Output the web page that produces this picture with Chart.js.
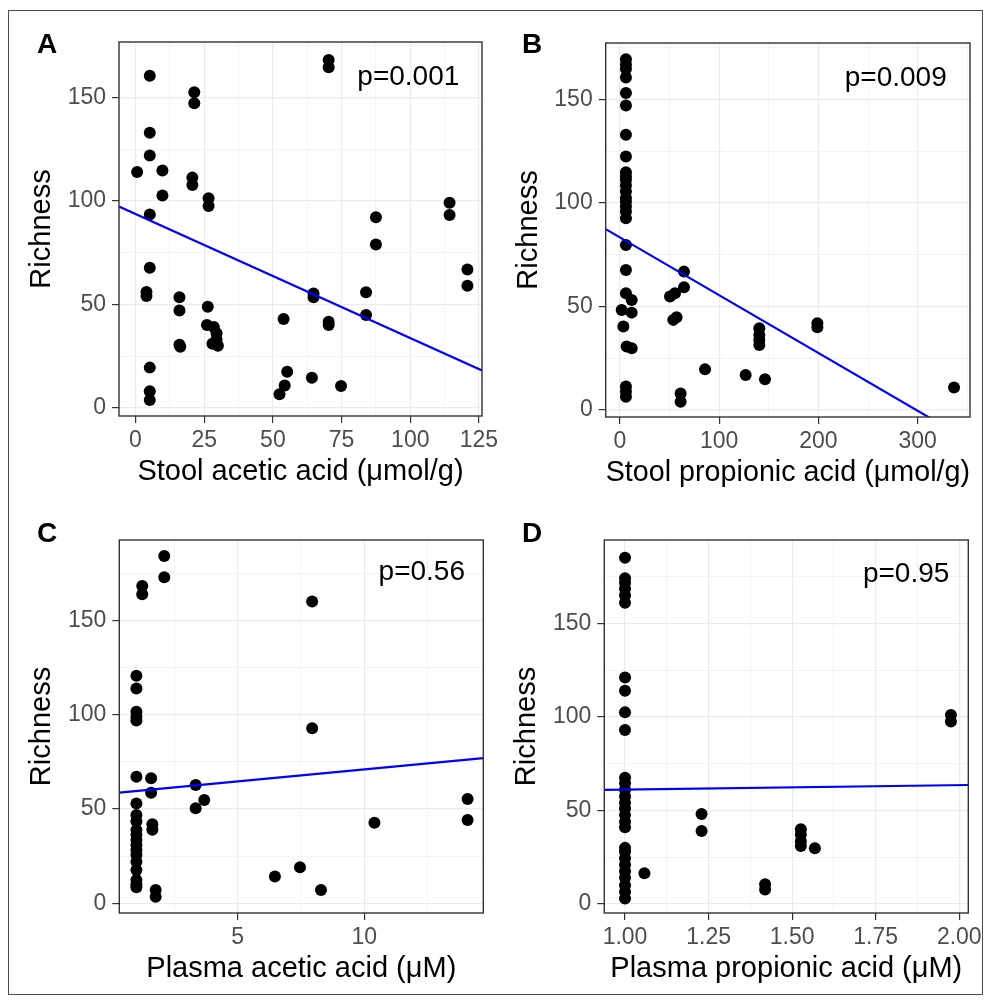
<!DOCTYPE html>
<html>
<head>
<meta charset="utf-8">
<title>Richness vs short-chain fatty acids</title>
<script src="https://cdn.jsdelivr.net/npm/chart.js@4.4.1/dist/chart.umd.min.js"></script>
<style>
  body { margin: 0; background: #fff; width: 991px; height: 1003px; position: relative; overflow: hidden; }
  .frame { position: absolute; left: 8px; top: 10px; width: 973px; height: 983px; border: 1.5px solid #4a4a4a; }
  canvas { position: absolute; }
</style>
</head>
<body>
<div class="frame"></div>
<canvas id="chartA" width="520" height="495" style="left:0px;top:0px"></canvas>
<canvas id="chartB" width="496" height="495" style="left:495px;top:0px"></canvas>
<canvas id="chartC" width="520" height="508" style="left:0px;top:495px"></canvas>
<canvas id="chartD" width="496" height="508" style="left:495px;top:495px"></canvas>
<script>
// Values (richness = y for every panel)

// A - stool acetic acid (umol/g)
const stoolAcetic = [5.2, 21.4, 21.4, 5.2, 5.2, 0.6, 9.8, 9.8, 20.7, 20.7,
  26.6, 26.6, 5.2, 5.2, 4.0, 4.0, 16, 16, 16, 16.3,
  26.3, 26, 28.5, 29.5, 29.5, 28, 30, 5.2, 5.2, 5.2,
  53.9, 52.4, 54.3, 55.2, 70.3, 70.3, 114.3, 114.3, 87.5, 87.5,
  120.8, 120.8, 64.8, 64.8, 83.9, 83.9, 70.3, 70.3, 64.2, 74.8];
const stoolAceticRich = [160.6, 152.6, 147.3, 133, 122, 114, 114.7, 102.6, 111.3, 107.7,
  101.3, 97.6, 93.5, 67.7, 56, 54, 53.4, 47, 30.5, 29.5,
  48.9, 40, 39, 36, 33, 31, 30, 19.4, 8, 3.7,
  42.9, 6.5, 10.8, 17.4, 168.2, 164.7, 99.2, 93.2, 92.1, 79,
  66.9, 59, 55.3, 53.4, 55.8, 44.8, 41.6, 40, 14.5, 10.5];
const stoolAceticFit = [93.7, -0.6]; // intercept, slope

// B - stool propionic acid (umol/g)
const stoolPropionic = [6, 6, 6, 6, 6, 6, 6, 6, 6, 6,
  6, 6, 6, 6, 6, 6, 6, 6, 6, 6, 6,
  1.7, 3.4, 11.8, 11.8, 6.7, 11.8, 6, 6, 6, 50.4,
  55.4, 64.5, 64.5, 53.7, 57, 61.1, 61.1, 85.7, 126.6, 146.1,
  140.4, 140.4, 140.4, 140.4, 198.9, 198.9, 336.6];
const stoolPropionicRich = [169.4, 166.7, 164.6, 160.5, 153, 147, 132.9, 122.4, 114.8, 112.7,
  111.1, 108.4, 105.5, 102.3, 100.6, 98.2, 95.8, 92.6, 79.7, 67.6, 56.4,
  48.3, 40.3, 53.1, 47, 30.6, 29.8, 11.3, 8.9, 6.4, 54.8,
  56.4, 66.8, 59.3, 43.5, 44.8, 8, 4, 19.6, 16.9, 14.8,
  39.5, 36.2, 33.8, 31.4, 41.9, 39.9, 10.8];
const stoolPropionicFit = [83.3, -0.279];

// C - plasma acetic acid (uM)
const plasmaAcetic = [2.1, 2.1, 1.23, 1.23, 1.0, 1.0, 1.0, 1.0, 1.0, 1.0,
  1.58, 1.58, 3.34, 3.34, 3.68, 1.0, 1.0, 1.63, 1.63,
  1.0, 1.0, 1.0, 1.0, 1.0, 1.0, 1.0, 1.0, 1.0, 1.0, 1.0, 1.0,
  1.76, 1.76, 6.47, 7.94, 7.94, 14.08, 14.08, 10.4, 7.46, 8.29];
const plasmaAceticRich = [184.3, 173, 168.4, 164, 120.8, 114, 101.7, 99, 97, 67.2,
  66.3, 58.7, 62.8, 50.4, 54.8, 53, 46.9, 42, 39,
  43.5, 38.9, 36.3, 33.6, 31, 28.3, 25.6, 22.1, 17.7, 12.4, 10, 8.5,
  7, 3.5, 14.2, 160.1, 92.9, 55.4, 44.2, 42.8, 19.1, 7.1];
const plasmaAceticFit = [58.3, 1.274];

// D - plasma propionic acid (uM)
const plasmaPropionic = [1, 1, 1, 1, 1, 1, 1, 1, 1, 1,
  1, 1, 1, 1, 1, 1, 1, 1, 1, 1,
  1, 1, 1, 1, 1, 1, 1, 1,
  1.058, 1.229, 1.229, 1.419, 1.419, 1.526, 1.526, 1.526, 1.526, 1.568, 1.975, 1.975];
const plasmaPropionicRich = [185, 174, 171.5, 168.5, 165, 161, 121, 114, 102.5, 93,
  67.5, 64.5, 61, 57.5, 54, 51, 47.5, 44, 41, 30,
  28, 24.5, 21, 17.5, 14, 10, 6.5, 3,
  16.4, 48.1, 39, 10.5, 7.8, 40, 37, 33.5, 31, 29.8, 101, 97.5];
const plasmaPropionicFit = [58.76, 2.39];

// tick breaks and labels
const richnessTicks = [0, 50, 100, 150];
const richnessTickLabels = ['0', '50', '100', '150'];
const stoolAceticTicks = [0, 25, 50, 75, 100, 125];
const stoolAceticTickLabels = ['0', '25', '50', '75', '100', '125'];
const stoolPropionicTicks = [0, 100, 200, 300];
const stoolPropionicTickLabels = ['0', '100', '200', '300'];
const plasmaAceticTicks = [5, 10];
const plasmaAceticTickLabels = ['5', '10'];
const plasmaPropionicTicks = [1, 1.25, 1.5, 1.75, 2];
const plasmaPropionicTickLabels = ['1.00', '1.25', '1.50', '1.75', '2.00'];

const pValues = ['p=0.001', 'p=0.009', 'p=0.56', 'p=0.95'];
const xTitles = ['Stool acetic acid (\u03bcmol/g)', 'Stool propionic acid (\u03bcmol/g)',
  'Plasma acetic acid (\u03bcM)', 'Plasma propionic acid (\u03bcM)'];

const FONT = '"Liberation Sans", Arial, Helvetica, sans-serif';

// layout of each panel (page pixels)
const panels = [
  { id: 'chartA', letter: 'A', xs: stoolAcetic, ys: stoolAceticRich, fit: stoolAceticFit,
    xRange: [-6.0, 126.1], yRange: [-4.0, 176.9], xTicks: stoolAceticTicks, xLabels: stoolAceticTickLabels,
    canvas: { left: 0, top: 0, width: 520, height: 495 }, area: { left: 119, top: 42, right: 482, bottom: 416 },
    pRight: 22.7, pTop: 43, letterX: 37, letterY: 53 },
  { id: 'chartB', letter: 'B', xs: stoolPropionic, ys: stoolPropionicRich, fit: stoolPropionicFit,
    xRange: [-14.4, 352.7], yRange: [-3.4, 177.2], xTicks: stoolPropionicTicks, xLabels: stoolPropionicTickLabels,
    canvas: { left: 495, top: 0, width: 496, height: 495 }, area: { left: 605.7, top: 43, right: 970, bottom: 417 },
    pRight: 23.3, pTop: 43, letterX: 522, letterY: 53 },
  { id: 'chartC', letter: 'C', xs: plasmaAcetic, ys: plasmaAceticRich, fit: plasmaAceticFit,
    xRange: [0.324, 14.70], yRange: [-5.15, 192.8], xTicks: plasmaAceticTicks, xLabels: plasmaAceticTickLabels,
    canvas: { left: 0, top: 495, width: 520, height: 508 }, area: { left: 119.3, top: 540, right: 483.3, bottom: 913 },
    pRight: 18.3, pTop: 40, letterX: 37, letterY: 542 },
  { id: 'chartD', letter: 'D', xs: plasmaPropionic, ys: plasmaPropionicRich, fit: plasmaPropionicFit,
    xRange: [0.938, 2.027], yRange: [-4.8, 194.5], xTicks: plasmaPropionicTicks, xLabels: plasmaPropionicTickLabels,
    canvas: { left: 495, top: 495, width: 496, height: 508 }, area: { left: 604.3, top: 540, right: 968.3, bottom: 913 },
    pRight: 19, pTop: 41.5, letterX: 522, letterY: 542 }
];

// major breaks plus ggplot-style minor breaks halfway between, kept inside the range
function gridValues(majors, range) {
  const step = majors[1] - majors[0];
  const out = [];
  for (let v = majors[0] - step; v <= range[1] + 1e-9; v += step / 2) {
    if (v >= range[0] - 1e-9) out.push(+v.toFixed(6));
  }
  return out;
}

function axisOptions(majors, labels, range, titleText, titleOpts, fitSize) {
  const isMajor = v => majors.some(m => Math.abs(m - v) < 1e-6);
  const vals = gridValues(majors, range);
  return {
    type: 'linear',
    min: range[0],
    max: range[1],
    bounds: 'data',
    afterBuildTicks: scale => { scale.ticks = vals.map(v => ({ value: v })); },
    afterFit: fitSize,
    border: { display: false },
    grid: {
      color: '#EBEBEB',
      lineWidth: c => (c.tick && isMajor(c.tick.value)) ? 1.2 : 0.6,
      tickColor: c => (c.tick && isMajor(c.tick.value)) ? '#333333' : 'rgba(0,0,0,0)',
      tickWidth: 1.2,
      tickLength: 7
    },
    ticks: {
      autoSkip: false,
      maxRotation: 0,
      padding: titleOpts.tickPad,
      color: '#4D4D4D',
      font: { family: FONT, size: 23 },
      callback: v => {
        const i = majors.findIndex(m => Math.abs(m - v) < 1e-6);
        return i >= 0 ? labels[i] : '';
      }
    },
    title: {
      display: true,
      text: titleText,
      color: '#000000',
      font: { family: FONT, size: 29 },
      padding: { top: titleOpts.padTop, bottom: 0 }
    }
  };
}

// panel border, p-value and panel letter
const panelDecor = {
  id: 'panelDecor',
  afterDatasetsDraw(chart, args, opts) {
    const { ctx, chartArea: a } = chart;
    ctx.save();
    ctx.strokeStyle = '#333333';
    ctx.lineWidth = 1.4;
    ctx.strokeRect(a.left, a.top, a.right - a.left, a.bottom - a.top);
    ctx.fillStyle = '#000000';
    ctx.textBaseline = 'alphabetic';
    ctx.font = '28px ' + FONT;
    ctx.textAlign = 'right';
    ctx.fillText(opts.p, a.right - opts.pRight, a.top + opts.pTop);
    ctx.font = 'bold 28px ' + FONT;
    ctx.textAlign = 'left';
    ctx.fillText(opts.letter, opts.letterX, opts.letterY);
    ctx.restore();
  }
};

const X_AXIS_HEIGHT = 73.7;
const Y_TITLE_GAP = 77;

panels.forEach((p, k) => {
  const c = p.canvas, a = p.area;
  const yWidth = a.left - c.left;
  const yTitlePad = (a.left - Y_TITLE_GAP - c.left) - 29 * 1.2 / 2;

  const points = p.xs.map((x, i) => ({ x: x, y: p.ys[i] }));
  const fitLine = [p.xRange[0], p.xRange[1]].map(x => ({ x: x, y: p.fit[0] + p.fit[1] * x }));

  new Chart(document.getElementById(p.id), {
    type: 'scatter',
    data: {
      datasets: [
        {
          type: 'line',
          data: fitLine,
          borderColor: '#0000FF',
          borderWidth: 2.2,
          pointRadius: 0,
          fill: false
        },
        {
          data: points,
          backgroundColor: '#000000',
          borderWidth: 0,
          pointRadius: 6,
          pointHoverRadius: 6
        }
      ]
    },
    options: {
      responsive: false,
      animation: false,
      layout: {
        padding: {
          left: 0,
          top: a.top - c.top,
          right: c.left + c.width - a.right,
          bottom: c.top + c.height - (a.bottom + X_AXIS_HEIGHT)
        }
      },
      scales: {
        x: axisOptions(p.xTicks, p.xLabels, p.xRange, xTitles[k], { padTop: 0, tickPad: 3.5 },
          s => { s.height = X_AXIS_HEIGHT; }),
        y: axisOptions(richnessTicks, richnessTickLabels, p.yRange, 'Richness', { padTop: yTitlePad, tickPad: 6 },
          s => { s.width = yWidth; })
      },
      plugins: {
        legend: { display: false },
        tooltip: { enabled: false },
        panelDecor: {
          p: pValues[k],
          pRight: p.pRight,
          pTop: p.pTop,
          letter: p.letter,
          letterX: p.letterX - c.left,
          letterY: p.letterY - c.top
        }
      }
    },
    plugins: [panelDecor]
  });
});
</script>
</body>
</html>
